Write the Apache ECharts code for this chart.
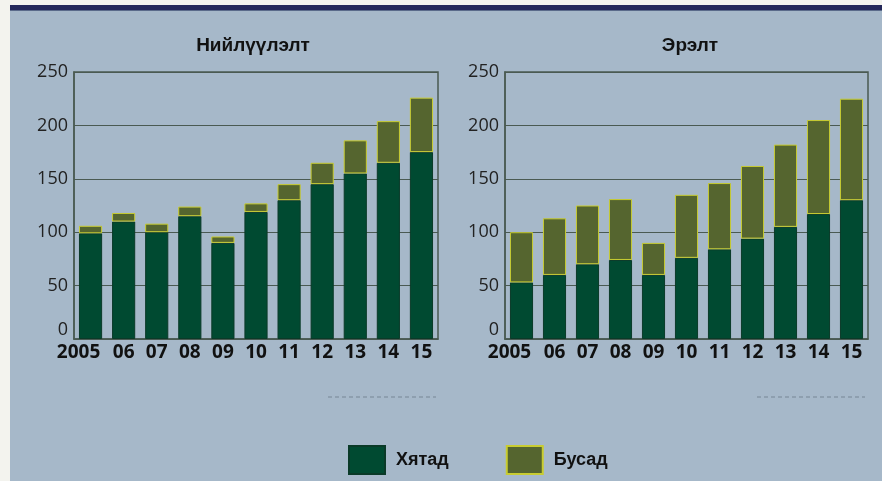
<!DOCTYPE html>
<html>
<head>
<meta charset="utf-8">
<script src="https://cdn.jsdelivr.net/npm/echarts@6/dist/echarts.min.js"></script>
<style>
  html, body { margin: 0; padding: 0; background: #f3f3ee; }
  #wrap { position: absolute; left: 10px; top: 5px; width: 872px; height: 476px; background: #a6b8c9; }
  #band { position: absolute; left: 0; top: 0; width: 872px; height: 5px; background: #24285a; border-bottom: 1px solid #5a6a8a; }
  #chart { position: absolute; left: 0; top: 0; width: 882px; height: 481px; }
</style>
</head>
<body>
<div id="wrap"><div id="band"></div></div>
<div id="chart"></div>
<script>
// years on the x axis
var years = ['2005', '06', '07', '08', '09', '10', '11', '12', '13', '14', '15'];
// supply (Нийлүүлэлт)
var supplyChina = [99, 110, 100, 115, 90, 119, 130, 145, 155, 165, 175];
var supplyOther = [7, 8, 8, 9, 6, 8, 15, 20, 31, 39, 51];
// demand (Эрэлт)
var demandChina = [53, 60, 70, 74, 60, 76, 84, 94, 105, 117, 130];
var demandOther = [47, 53, 55, 57, 30, 59, 62, 68, 77, 88, 95];

var titles = ['Нийлүүлэлт', 'Эрэлт'];
var legendNames = ['Хятад', 'Бусад'];

var darkGreen = '#004a31';
var olive = '#55652f';
var lineCol = '#4a5a52';

var ec = echarts.init(document.getElementById('chart'));

function xAx(i) {
  return {
    type: 'category', gridIndex: i, data: years,
    axisLine: { lineStyle: { color: lineCol, width: 1.5 } },
    axisTick: { show: false },
    axisLabel: {
      color: '#111', fontFamily: 'Open Sans', fontWeight: 'bold', fontSize: 19, margin: 4, interval: 0,
      // the first (long) label sits a bit to the left
      formatter: function (v, idx) { return idx === 0 ? '{f|' + v + '}' : v; },
      rich: { f: { color: '#111', fontFamily: 'Open Sans', fontWeight: 'bold', fontSize: 19, padding: [0, 24, 0, 0] } }
    }
  };
}
function yAx(i) {
  return {
    type: 'value', gridIndex: i, min: 0, max: 250, interval: 50,
    axisLine: { show: true, lineStyle: { color: lineCol, width: 1.5 } },
    axisTick: { show: false },
    axisLabel: { color: '#222', fontFamily: 'Open Sans', fontSize: 18, margin: 6, verticalAlignMinLabel: 'bottom' },
    splitLine: { lineStyle: { color: lineCol, width: 1.2 } }
  };
}
function bars(name, i, data, color, border) {
  return {
    name: name, type: 'bar', stack: 's' + i, xAxisIndex: i, yAxisIndex: i,
    data: data, barWidth: '70%',
    itemStyle: { color: color, borderColor: border, borderWidth: 1 }
  };
}

var option = {
  animation: false,
  title: titles.map(function (t, i) {
    return {
      text: t, left: i === 0 ? 248 : 685, top: 31, textAlign: 'center',
      textStyle: { fontFamily: 'Liberation Sans Narrow, Liberation Sans', fontWeight: 'bold', fontSize: 19, color: '#111' }
    };
  }),
  legend: {
    data: legendNames, left: 343, top: 440, itemWidth: 36, itemHeight: 28, itemGap: 57, icon: 'rect',
    textStyle: { fontFamily: 'Liberation Sans Narrow, Liberation Sans', fontWeight: 'bold', fontSize: 18, color: '#111', padding: [0, 0, 0, 6] }
  },
  grid: [
    { left: 74, top: 72, width: 364, height: 267, show: true, borderColor: lineCol, borderWidth: 1.5 },
    { left: 505, top: 72, width: 363, height: 267, show: true, borderColor: lineCol, borderWidth: 1.5 }
  ],
  xAxis: [xAx(0), xAx(1)],
  yAxis: [yAx(0), yAx(1)],
  series: [
    bars(legendNames[0], 0, supplyChina, darkGreen, '#0a3a28'),
    bars(legendNames[1], 0, supplyOther, olive, '#c8cc30'),
    bars(legendNames[0], 1, demandChina, darkGreen, '#0a3a28'),
    bars(legendNames[1], 1, demandOther, olive, '#c8cc30')
  ],
  graphic: [
    { type: 'line', shape: { x1: 328, y1: 397, x2: 436, y2: 397 }, style: { stroke: '#8696a6', lineWidth: 1.5, lineDash: [4, 3] } },
    { type: 'line', shape: { x1: 757, y1: 397, x2: 865, y2: 397 }, style: { stroke: '#8696a6', lineWidth: 1.5, lineDash: [4, 3] } }
  ]
};
ec.setOption(option);
</script>
</body>
</html>
